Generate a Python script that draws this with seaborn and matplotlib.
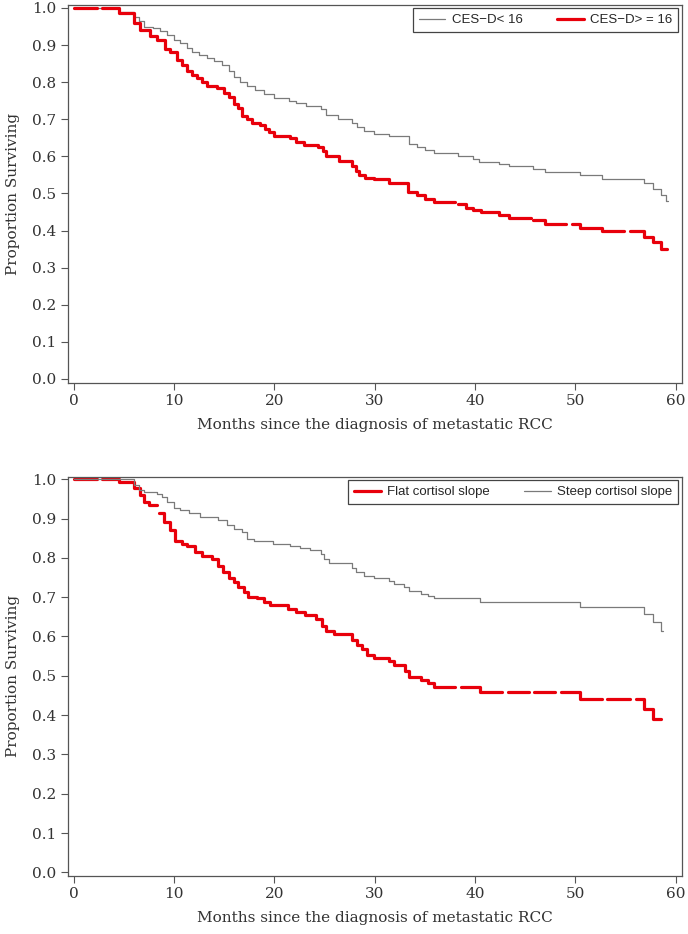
import pandas as pd
import matplotlib.pyplot as plt
import seaborn as sns

# Kaplan-Meier step data: step start times (months) and survival after each step
cesd_low_t = [0, 4.5, 6.0, 6.5, 7.0, 7.9, 8.6, 9.3, 10.0, 10.6, 11.3, 11.8, 12.5, 13.3, 14.0, 14.8,
              15.5, 16.0, 16.6, 17.3, 18.1, 19.0, 20.0, 21.5, 22.2, 23.2, 24.6, 25.1, 26.3, 27.7,
              28.2, 28.9, 29.9, 31.4, 33.4, 34.2, 35.0, 35.9, 38.3, 39.8, 40.4, 42.4, 43.4, 45.8,
              47.0, 50.5, 52.7, 56.8, 57.7, 58.5, 59.0]
cesd_low_s = [1.0, 0.99, 0.975, 0.964, 0.95, 0.945, 0.937, 0.928, 0.914, 0.905, 0.893, 0.882, 0.873,
              0.866, 0.857, 0.846, 0.83, 0.814, 0.80, 0.79, 0.78, 0.768, 0.757, 0.75, 0.745, 0.737,
              0.728, 0.712, 0.70, 0.69, 0.678, 0.669, 0.66, 0.654, 0.633, 0.624, 0.617, 0.608, 0.60,
              0.593, 0.585, 0.579, 0.573, 0.566, 0.558, 0.549, 0.538, 0.527, 0.512, 0.495, 0.479]
cesd_low_end = 59.2
cesd_low_gaps = []

cesd_high_t = [0, 4.5, 6.0, 6.6, 7.6, 8.3, 9.1, 9.6, 10.3, 10.8, 11.3, 11.8, 12.3, 12.8, 13.3, 14.3,
               15.0, 15.5, 16.0, 16.4, 16.8, 17.3, 17.8, 18.6, 19.1, 19.5, 20.0, 21.6, 22.2, 23.0,
               24.3, 24.8, 25.1, 26.4, 27.7, 28.1, 28.4, 29.0, 29.9, 31.4, 33.3, 34.2, 35.0, 35.9,
               38.3, 39.1, 39.8, 40.6, 42.4, 43.4, 45.8, 47.0, 50.5, 52.7, 56.8, 57.7, 58.5]
cesd_high_s = [1.0, 0.986, 0.96, 0.94, 0.925, 0.915, 0.89, 0.88, 0.86, 0.845, 0.83, 0.82, 0.81, 0.80,
               0.79, 0.785, 0.77, 0.76, 0.74, 0.73, 0.71, 0.70, 0.69, 0.685, 0.675, 0.665, 0.655,
               0.65, 0.64, 0.63, 0.625, 0.615, 0.60, 0.587, 0.574, 0.56, 0.551, 0.542, 0.538, 0.529,
               0.505, 0.495, 0.486, 0.477, 0.471, 0.462, 0.456, 0.45, 0.442, 0.434, 0.428, 0.419,
               0.407, 0.398, 0.382, 0.368, 0.35]
cesd_high_end = 59.1
cesd_high_gaps = [(2.3, 2.8), (38.0, 38.3), (45.6, 45.8), (49.1, 49.7), (54.8, 55.4)]

flat_t = [0, 4.5, 6.0, 6.6, 7.0, 7.5, 8.5, 9.0, 9.6, 10.1, 10.8, 11.3, 12.1, 12.8, 13.8, 14.4, 14.9,
          15.5, 16.0, 16.4, 17.0, 17.4, 18.3, 19.0, 19.6, 21.4, 22.2, 23.1, 24.1, 24.7, 25.1, 25.9,
          27.7, 28.2, 28.7, 29.2, 29.9, 31.4, 31.9, 33.0, 33.4, 34.6, 35.3, 35.9, 40.5, 50.5,
          56.8, 57.7]
flat_s = [1.0, 0.994, 0.977, 0.96, 0.943, 0.934, 0.913, 0.891, 0.87, 0.844, 0.836, 0.829, 0.816,
          0.806, 0.797, 0.78, 0.763, 0.75, 0.738, 0.725, 0.712, 0.70, 0.697, 0.688, 0.68, 0.671,
          0.662, 0.654, 0.644, 0.627, 0.614, 0.607, 0.592, 0.579, 0.567, 0.554, 0.545, 0.537,
          0.528, 0.511, 0.498, 0.49, 0.481, 0.471, 0.46, 0.44, 0.416, 0.391]
flat_end = 58.5
flat_gaps = [(2.3, 2.8), (8.3, 8.5), (38.0, 38.6), (42.7, 43.3), (45.4, 45.9), (48.0, 48.6),
             (52.7, 53.2), (55.4, 56.0)]

steep_t = [0, 6.0, 6.5, 7.0, 8.3, 8.8, 9.3, 10.0, 10.6, 11.5, 12.6, 14.4, 15.3, 16.0, 16.8, 17.3,
           18.0, 19.9, 21.6, 22.6, 23.6, 24.6, 24.9, 25.4, 27.7, 28.1, 28.9, 29.9, 31.4, 31.9,
           32.9, 33.4, 34.6, 35.3, 35.9, 40.5, 50.5, 56.8, 57.7, 58.5]
steep_s = [1.0, 0.985, 0.973, 0.968, 0.962, 0.956, 0.943, 0.927, 0.921, 0.915, 0.904, 0.896, 0.883,
           0.873, 0.866, 0.849, 0.842, 0.836, 0.83, 0.825, 0.819, 0.81, 0.797, 0.786, 0.775, 0.763,
           0.753, 0.748, 0.742, 0.733, 0.725, 0.716, 0.708, 0.702, 0.697, 0.689, 0.676, 0.656,
           0.637, 0.615]
steep_end = 58.7
steep_gaps = []

top_labels = ['CES\u2212D< 16', 'CES\u2212D> = 16']
bottom_labels = ['Flat cortisol slope', 'Steep cortisol slope']
yticks = [0.0, 0.1, 0.2, 0.3, 0.4, 0.5, 0.6, 0.7, 0.8, 0.9, 1.0]
xticks = [0, 10, 20, 30, 40, 50, 60]

RED = '#e8000b'
GREY = '#7a7a7a'


def staircase(t, s, t_end, gaps, label):
    # turn step data into vertices, breaking the line where the plot shows a gap
    rows = []
    seg = 0
    last_x = None
    for i in range(len(t)):
        t0 = t[i]
        t1 = t[i + 1] if i + 1 < len(t) else t_end
        pieces = [(t0, t1)]
        for g0, g1 in gaps:
            new = []
            for a, b in pieces:
                if g1 <= a or g0 >= b:
                    new.append((a, b))
                else:
                    if g0 > a:
                        new.append((a, g0))
                    if g1 < b:
                        new.append((g1, b))
            pieces = new
        for a, b in pieces:
            if last_x is not None and a > last_x + 1e-9:
                seg += 1
            rows.append((a, s[i], label, seg))
            rows.append((b, s[i], label, seg))
            last_x = b
    return pd.DataFrame(rows, columns=['time', 'surv', 'group', 'seg'])


sns.set_style('ticks')
plt.rcParams['font.family'] = ['DejaVu Serif']

fig = plt.figure(figsize=(6.88, 9.34), dpi=100)
ax1 = fig.add_axes([67.7 / 688, 1 - 383.3 / 934, 614 / 688, 378.3 / 934])
ax2 = fig.add_axes([67.7 / 688, 1 - 876 / 934, 614 / 688, 399.3 / 934])

top_df = pd.concat([
    staircase(cesd_low_t, cesd_low_s, cesd_low_end, cesd_low_gaps, top_labels[0]),
    staircase(cesd_high_t, cesd_high_s, cesd_high_end, cesd_high_gaps, top_labels[1]),
])
bottom_df = pd.concat([
    staircase(flat_t, flat_s, flat_end, flat_gaps, bottom_labels[0]),
    staircase(steep_t, steep_s, steep_end, steep_gaps, bottom_labels[1]),
])
top_df['uid'] = top_df['group'] + top_df['seg'].astype(str)
bottom_df['uid'] = bottom_df['group'] + bottom_df['seg'].astype(str)

panels = [
    (ax1, top_df, top_labels, {top_labels[0]: GREY, top_labels[1]: RED},
     {top_labels[0]: 0.9, top_labels[1]: 2.3}, (-0.0116, 1.008)),
    (ax2, bottom_df, bottom_labels, {bottom_labels[0]: RED, bottom_labels[1]: GREY},
     {bottom_labels[0]: 2.3, bottom_labels[1]: 0.9}, (-0.0094, 1.0066)),
]

for ax, df, labels, pal, widths, ylim in panels:
    sns.lineplot(data=df, x='time', y='surv', hue='group', size='group', hue_order=labels,
                 size_order=labels, palette=pal, sizes=widths, units='uid', estimator=None,
                 sort=False, ax=ax)
    ax.set_xlim(-0.6, 60.6)
    ax.set_ylim(*ylim)
    ax.set_xticks(xticks)
    ax.set_yticks(yticks)
    ax.set_xticklabels([str(x) for x in xticks])
    ax.set_yticklabels([f'{y:.1f}' for y in yticks])
    ax.tick_params(axis='both', direction='out', length=5, width=0.8, color='#555555',
                   labelsize=11, labelcolor='#333333', pad=3)
    for sp in ax.spines.values():
        sp.set_visible(True)
        sp.set_color('#555555')
        sp.set_linewidth(0.9)
    ax.set_xlabel('Months since the diagnosis of metastatic RCC', fontsize=11, color='#333333',
                  labelpad=7)
    ax.set_ylabel('Proportion Surviving', fontsize=11, color='#333333', labelpad=9)
    handles, labs = ax.get_legend_handles_labels()
    ax.legend(handles, labs, loc='upper right', ncol=2, frameon=True, fancybox=False,
              edgecolor='#444444', framealpha=1, borderaxespad=0.25, handlelength=2.0,
              columnspacing=2.6, handletextpad=0.5, borderpad=0.45,
              prop={'family': 'Liberation Sans', 'size': 9.5})
    ax.get_legend().get_frame().set_linewidth(0.9)

fig.savefig('out.png', dpi=100)
